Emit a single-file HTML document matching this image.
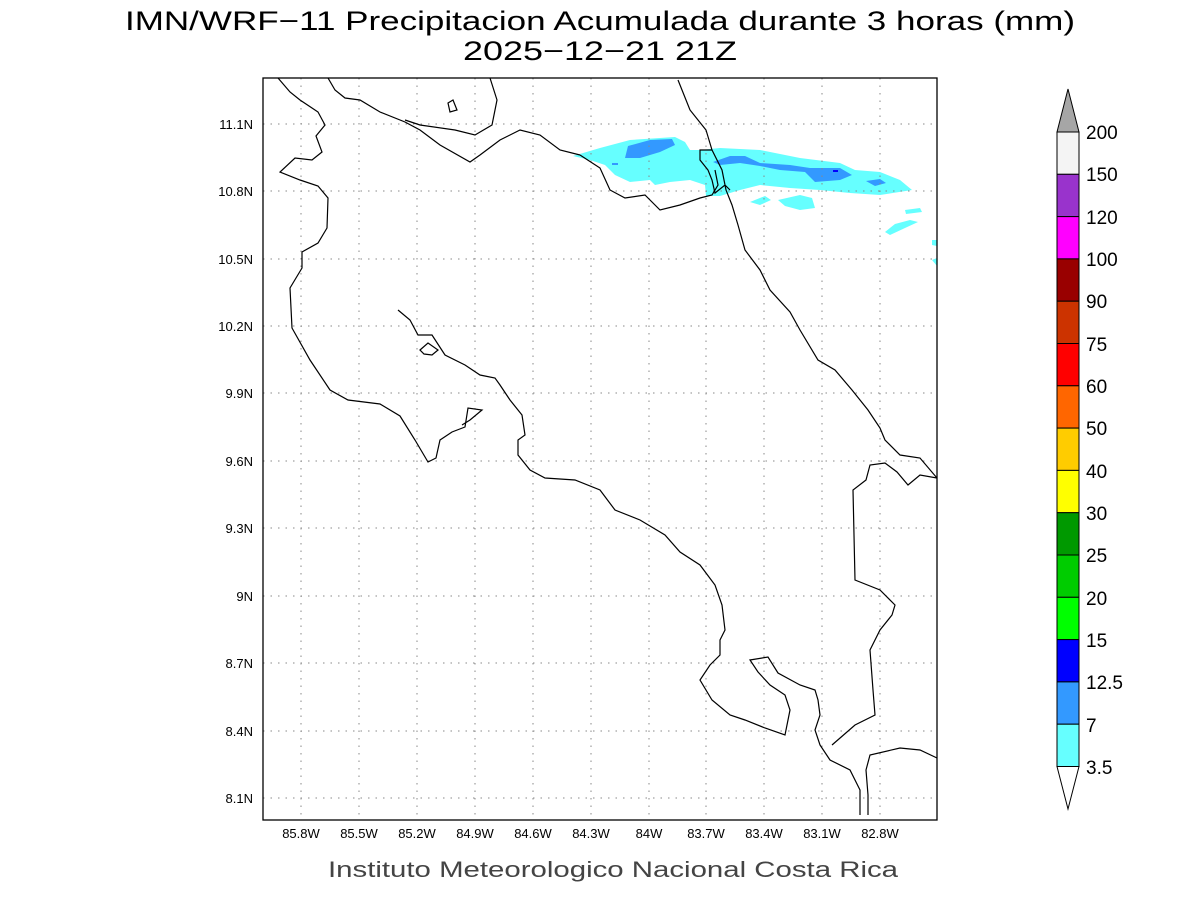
<!DOCTYPE html>
<html><head><meta charset="utf-8"><style>
html,body{margin:0;padding:0;background:#fff;}
svg{display:block;font-family:"Liberation Sans",sans-serif;}
</style></head><body>
<svg width="1200" height="900" viewBox="0 0 1200 900" xmlns="http://www.w3.org/2000/svg">
<text x="125" y="30" font-size="27" textLength="950" lengthAdjust="spacingAndGlyphs" fill="#000">IMN/WRF−11 Precipitacion Acumulada durante 3 horas (mm)</text>
<text x="463" y="60" font-size="27" textLength="274" lengthAdjust="spacingAndGlyphs" fill="#000">2025−12−21 21Z</text>
<defs><clipPath id="c"><rect x="263" y="78" width="674" height="742"/></clipPath></defs>
<g clip-path="url(#c)">
<g fill="#66ffff">
<path d="M573,156 L600,148 L630,140 L675,137 L685,142 L690,150 L700,150 L720,148 L760,150 L800,158 L840,163 L855,170 L880,172 L900,180 L912,190 L880,195 L850,193 L820,190 L790,188 L760,185 L740,190 L720,196 L706,196 L705,185 L690,180 L670,182 L655,185 L650,180 L630,182 L615,175 L605,165 L590,160 Z"/>
<path d="M750,202 L765,196 L771,200 L760,205 Z"/>
<path d="M778,200 L800,195 L812,198 L815,208 L800,210 L785,206 Z"/>
<path d="M905,210 L920,208 L922,212 L906,214 Z"/>
<path d="M885,232 L895,224 L910,220 L918,222 L905,228 L890,235 Z"/>
<path d="M932,240 L937,240 L937,246 L932,245 Z"/>
<path d="M932,260 L937,258 L937,266 Z"/>
</g>
<g fill="#3399ff">
<path d="M628,146 L650,140 L672,139 L675,145 L660,152 L640,158 L625,158 Z"/>
<path d="M713,162 L730,156 L745,156 L760,163 L790,165 L810,168 L840,168 L852,175 L840,180 L815,182 L805,172 L780,170 L760,166 L740,163 L720,165 Z"/>
<path d="M866,181 L880,179 L886,183 L875,186 Z"/>
<path d="M612,163 L618,163 L618,165 L612,165 Z"/>
</g>
<path d="M833,170 L838,170 L838,172 L833,172 Z" fill="#0000ff"/>
<g stroke="#888" stroke-width="1" stroke-dasharray="1.5,6">
<line x1="301" y1="78" x2="301" y2="820"/><line x1="359" y1="78" x2="359" y2="820"/><line x1="417" y1="78" x2="417" y2="820"/><line x1="475" y1="78" x2="475" y2="820"/><line x1="533" y1="78" x2="533" y2="820"/><line x1="591" y1="78" x2="591" y2="820"/><line x1="649" y1="78" x2="649" y2="820"/><line x1="706" y1="78" x2="706" y2="820"/><line x1="764" y1="78" x2="764" y2="820"/><line x1="822" y1="78" x2="822" y2="820"/><line x1="880" y1="78" x2="880" y2="820"/>
<line x1="263" y1="124" x2="937" y2="124"/><line x1="263" y1="191" x2="937" y2="191"/><line x1="263" y1="259" x2="937" y2="259"/><line x1="263" y1="326" x2="937" y2="326"/><line x1="263" y1="393" x2="937" y2="393"/><line x1="263" y1="461" x2="937" y2="461"/><line x1="263" y1="528" x2="937" y2="528"/><line x1="263" y1="596" x2="937" y2="596"/><line x1="263" y1="663" x2="937" y2="663"/><line x1="263" y1="731" x2="937" y2="731"/><line x1="263" y1="798" x2="937" y2="798"/>
</g>
<g fill="none" stroke="#000" stroke-width="1.2">
<path d="M278,78 L290,92 L300,100 L312,108 L318,112 L325,125 L316,136 L322,152 L312,160 L295,158 L280,172 L300,180 L318,186 L328,198 L327,228 L318,243 L302,252 L302,268 L290,288 L292,328 L310,360 L330,390 L348,400 L380,404 L400,416 L415,440 L428,462 L436,458 L440,440 L452,432 L465,427 L468,408 L482,410 L470,420 L462,425"/>
<path d="M398,310 L410,320 L418,335 L432,335 L445,355 L465,365 L480,375 L495,378 L500,385 L510,400 L522,415 L525,435 L518,440 L518,455 L530,470 L545,478 L575,480 L600,490 L615,510 L640,520 L665,535 L680,552 L700,565 L715,585 L722,605 L725,630 L720,640 L720,655 L710,665 L700,680 L712,700 L730,715 L745,720 L765,728 L785,735 L790,710 L785,695 L770,685 L758,672 L750,660 L768,657 L778,673 L800,685 L815,690 L818,700 L820,715 L815,730 L820,745 L830,760 L850,770 L860,790 L860,815"/>
<path d="M868,815 L868,795 L866,770 L870,755 L900,748 L920,750 L937,758"/>
<path d="M832,745 L855,725 L875,715 L873,690 L870,650 L880,630 L892,615 L895,605 L880,590 L855,580 L853,490 L866,480 L870,465 L885,463 L897,472 L908,485 L920,475 L937,478"/>
<path d="M937,478 L920,458 L900,455 L885,440 L880,428 L868,410 L852,390 L835,370 L818,360 L800,330 L790,312 L770,290 L760,270 L745,250 L738,225 L732,205 L726,190 L722,170 L712,150 L700,150 L700,160 L708,170 L712,180 L715,193 L725,185 L730,190 M712,150 L706,130 L690,110 L678,80"/>
<path d="M580,155 L600,168 L610,190 L625,198 L645,195 L660,210 L680,205 L700,198 L712,195 L718,185 L715,170"/>
<path d="M580,155 L560,150 L540,135 L520,130 L500,140 L480,155 L470,162 L440,145 L420,130 L405,122 L380,112 L360,100 L345,98 L335,90 L328,78"/>
<path d="M490,78 L497,100 L492,125 L475,135 L455,130 L420,125 L405,120"/>
<path d="M448,103 L453,100 L457,110 L450,112 Z"/>
<path d="M420,350 L428,343 L438,350 L432,355 L424,354 Z"/>
</g>
</g>
<rect x="263" y="78" width="674" height="742" fill="none" stroke="#000" stroke-width="1.3"/>
<g font-size="13" text-anchor="end" fill="#000">
<text x="253" y="129">11.1N</text><text x="253" y="196">10.8N</text><text x="253" y="264">10.5N</text><text x="253" y="331">10.2N</text><text x="253" y="398">9.9N</text><text x="253" y="466">9.6N</text><text x="253" y="533">9.3N</text><text x="253" y="601">9N</text><text x="253" y="668">8.7N</text><text x="253" y="736">8.4N</text><text x="253" y="803">8.1N</text>
</g>
<g font-size="13" text-anchor="middle" fill="#000">
<text x="301" y="838">85.8W</text><text x="359" y="838">85.5W</text><text x="417" y="838">85.2W</text><text x="475" y="838">84.9W</text><text x="533" y="838">84.6W</text><text x="591" y="838">84.3W</text><text x="649" y="838">84W</text><text x="706" y="838">83.7W</text><text x="764" y="838">83.4W</text><text x="822" y="838">83.1W</text><text x="880" y="838">82.8W</text>
</g>
<text x="328" y="877" font-size="22" textLength="570" lengthAdjust="spacingAndGlyphs" fill="#444">Instituto Meteorologico Nacional Costa Rica</text>
<g stroke="#000" stroke-width="1">
<path d="M1068,89 L1079,132 L1057,132 Z" fill="#a6a6a6"/>
<rect x="1057" y="132" width="22" height="42.3" fill="#f4f4f4"/>
<rect x="1057" y="174.3" width="22" height="42.3" fill="#9933cc"/>
<rect x="1057" y="216.6" width="22" height="42.3" fill="#ff00ff"/>
<rect x="1057" y="258.9" width="22" height="42.3" fill="#990000"/>
<rect x="1057" y="301.2" width="22" height="42.3" fill="#cc3300"/>
<rect x="1057" y="343.5" width="22" height="42.3" fill="#ff0000"/>
<rect x="1057" y="385.8" width="22" height="42.3" fill="#ff6600"/>
<rect x="1057" y="428.1" width="22" height="42.3" fill="#ffcc00"/>
<rect x="1057" y="470.4" width="22" height="42.3" fill="#ffff00"/>
<rect x="1057" y="512.7" width="22" height="42.3" fill="#009900"/>
<rect x="1057" y="555" width="22" height="42.3" fill="#00cc00"/>
<rect x="1057" y="597.3" width="22" height="42.3" fill="#00ff00"/>
<rect x="1057" y="639.6" width="22" height="42.3" fill="#0000ff"/>
<rect x="1057" y="681.9" width="22" height="42.3" fill="#3399ff"/>
<rect x="1057" y="724.2" width="22" height="42.3" fill="#66ffff"/>
<path d="M1057,766.5 L1079,766.5 L1068,809 Z" fill="#fff"/>
</g>
<g font-size="19" fill="#000">
<text x="1086" y="139">200</text><text x="1086" y="181">150</text><text x="1086" y="224">120</text><text x="1086" y="266">100</text><text x="1086" y="308">90</text><text x="1086" y="351">75</text><text x="1086" y="393">60</text><text x="1086" y="435">50</text><text x="1086" y="478">40</text><text x="1086" y="520">30</text><text x="1086" y="562">25</text><text x="1086" y="605">20</text><text x="1086" y="647">15</text><text x="1086" y="689">12.5</text><text x="1086" y="732">7</text><text x="1086" y="774">3.5</text>
</g>
</svg>
</body></html>
